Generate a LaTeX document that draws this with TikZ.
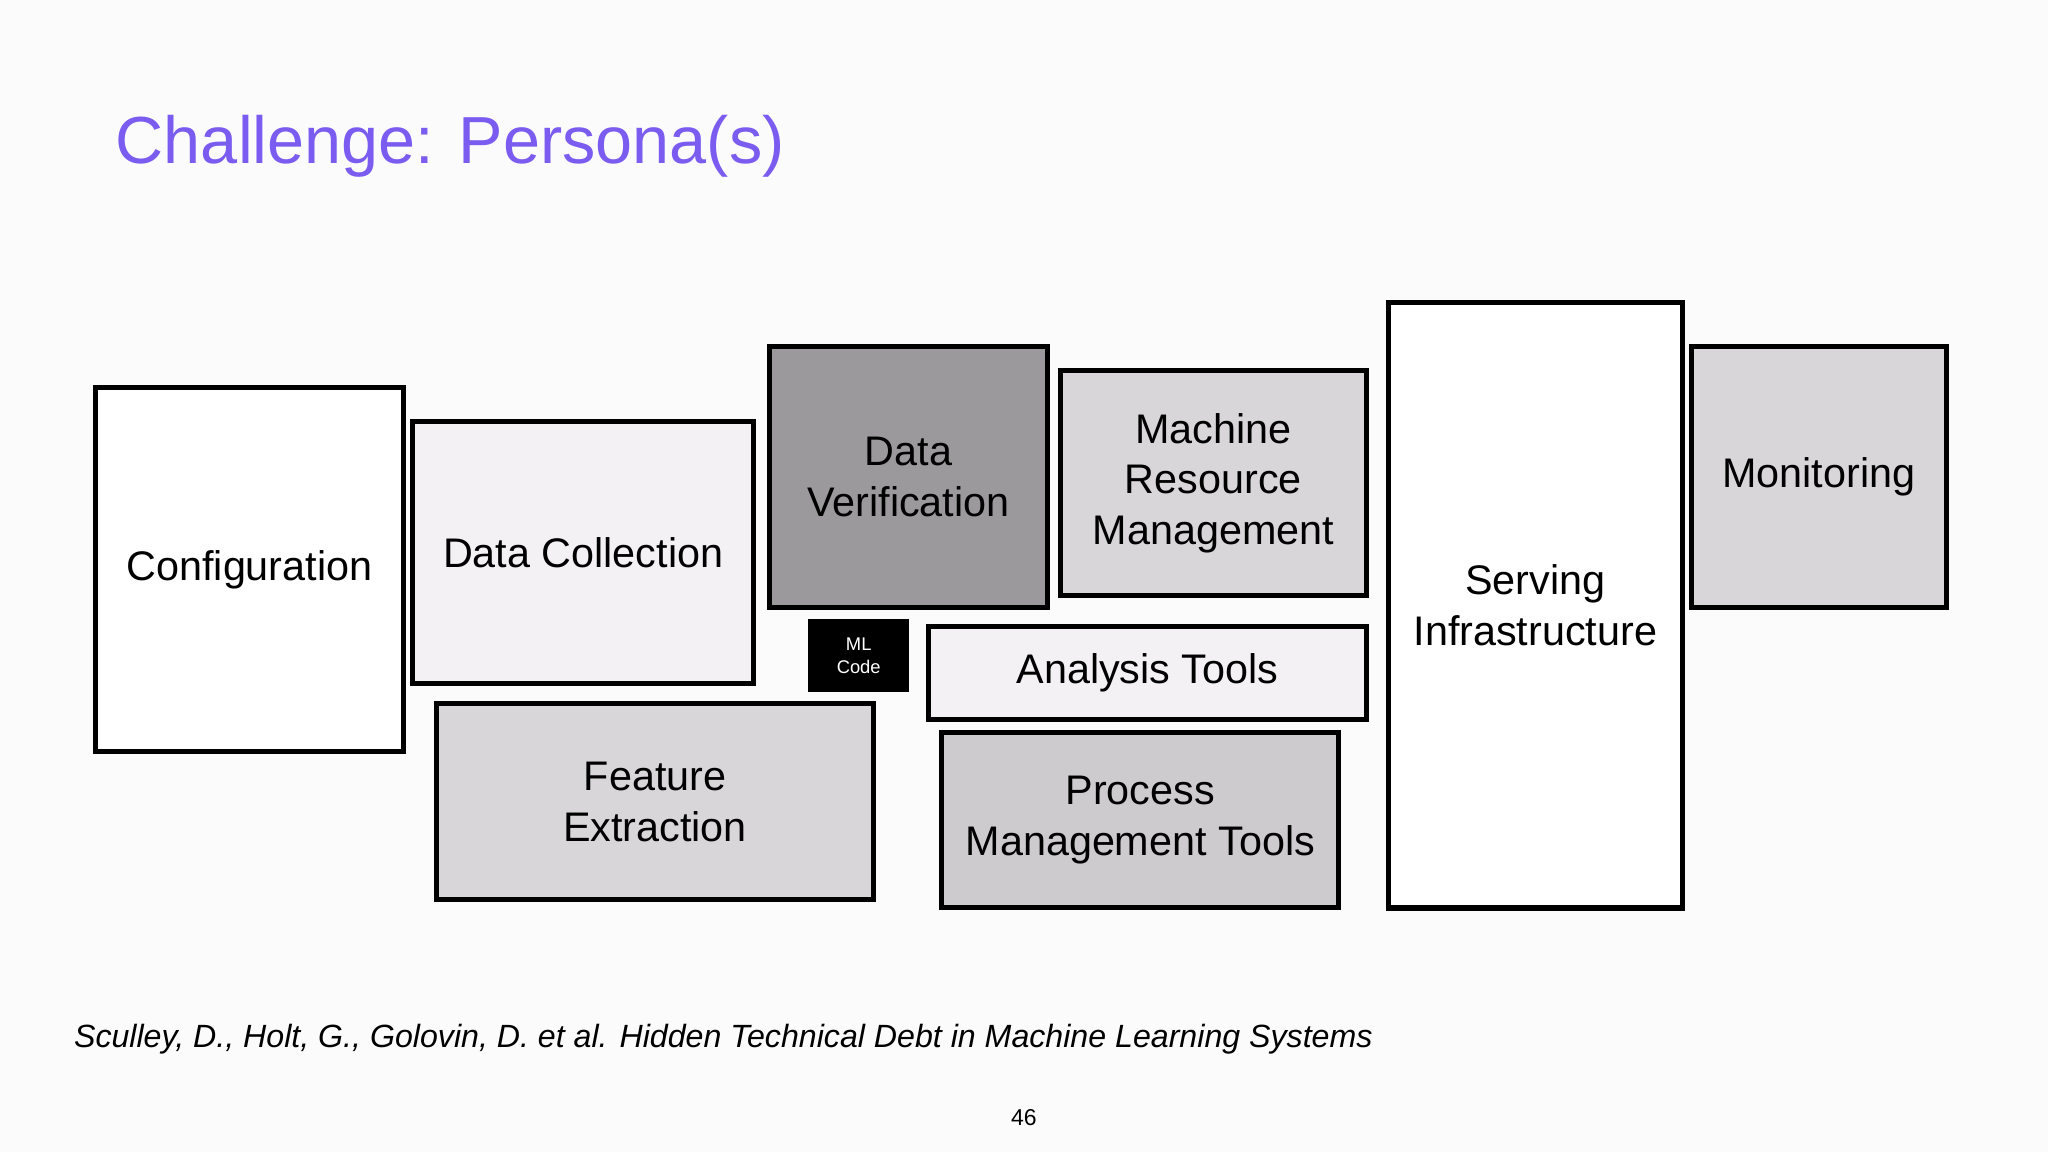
\documentclass[tikz,border=0pt]{standalone}
\usepackage{fontspec}
\setmainfont{Liberation Sans}
\definecolor{titlec}{HTML}{7B5CF0}
\definecolor{fLight}{HTML}{F3F1F4}
\definecolor{fMid}{HTML}{D8D6D9}
\definecolor{fDark}{HTML}{9B999B}
\begin{document}
\begin{tikzpicture}[x=0.01cm,y=-0.01cm,
  blk/.style={draw=black, line width=1.1pt, align=center, inner sep=0pt,
    font=\fontsize{9}{11}\selectfont},
]
\fill[white!97!gray] (0,0) rectangle (1568,882);
\useasboundingbox (0,0) rectangle (1568,882);
\newcommand{\blkat}[6]{\node[blk, fill=#5, minimum width=#3*0.01cm-1.1pt, minimum height=#4*0.01cm-1.1pt, anchor=north west] (#6) at (#1,#2) {};}
% boxes
\node[blk, fill=white, minimum width=2.36cm, minimum height=2.78cm, anchor=north west] (conf) at (71,295) {Configuration};
\node[blk, fill=fLight, minimum width=2.61cm, minimum height=2.00cm, anchor=north west] (dcol) at (314,321) {Data Collection};
\node[blk, fill=fDark, minimum width=2.13cm, minimum height=2.00cm, anchor=north west] (dver) at (587,263) {Data\\Verification};
\node[blk, fill=fMid, minimum width=2.34cm, minimum height=1.72cm, anchor=north west] (mrm) at (810,282) {Machine\\Resource\\Management};
\node[blk, fill=white, minimum width=2.25cm, minimum height=4.63cm, anchor=north west] (serv) at (1061,230) {Serving\\Infrastructure};
\node[blk, fill=fMid, minimum width=1.95cm, minimum height=2.00cm, anchor=north west] (mon) at (1293,263) {Monitoring};
\node[blk, fill=black, text=white, minimum width=0.73cm, minimum height=0.52cm, anchor=north west,
  font=\fontsize{4}{5}\selectfont] (ml) at (619,474) {ML\\Code};
\node[blk, fill=fLight, minimum width=3.35cm, minimum height=0.71cm, anchor=north west] (ana) at (709,478) {Analysis Tools};
\node[blk, fill=fMid, minimum width=3.35cm, minimum height=1.50cm, anchor=north west] (feat) at (332,537) {Feature\\Extraction};
\node[blk, fill=fMid!95!black, minimum width=3.04cm, minimum height=1.34cm, anchor=north west] (proc) at (719,559) {Process\\Management Tools};
% texts
\node[anchor=west, text=titlec, inner sep=0pt, font=\fontsize{14.5}{16}\selectfont] (title) at (88,112) {Challenge: Persona(s)};
\node[anchor=west, inner sep=0pt, font=\fontsize{7}{8}\itshape] (cite) at (56,796) {Sculley, D., Holt, G., Golovin, D. et al. Hidden Technical Debt in Machine Learning Systems};
\node[inner sep=0pt, font=\fontsize{5}{6}\selectfont] (page) at (784,856) {46};
\end{tikzpicture}
\end{document}
